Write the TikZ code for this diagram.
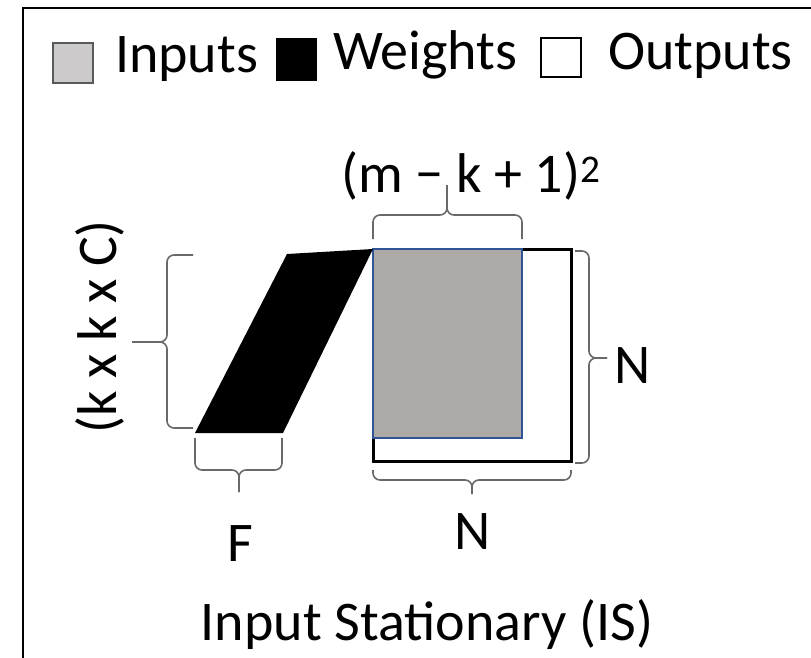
\documentclass[tikz,border=0pt]{standalone}
\usepackage{fontspec}
\setmainfont{Carlito}
\usepackage{tikz}
\usetikzlibrary{positioning,calc}
\definecolor{legendgray}{RGB}{204,202,202}
\definecolor{inputgray}{RGB}{173,169,166}
\definecolor{inputedge}{RGB}{47,85,151}
\definecolor{bracegray}{RGB}{105,105,105}
\tikzset{
    % Text and legend styles
    big/.style={font=\fontsize{56}{66}\selectfont, inner sep=0pt, outer sep=0pt},
    key/.style={rectangle, inner sep=0pt, outer sep=0pt},
    % Brace style
    brc/.style={draw=bracegray, line width=1.6pt, rounded corners=7pt},
}

\begin{document}
\begin{tikzpicture}[
    x=1pt, y=-1pt,
    outbox/.style={rectangle, draw, line width=3pt, fill=white, inner sep=0pt, outer sep=0pt,
                   minimum width=198pt, minimum height=212pt},
    inbox/.style={rectangle, draw=inputedge, line width=1.2pt, fill=inputgray, inner sep=0pt,
                  outer sep=0pt, minimum width=149pt, minimum height=189pt},
]
    \useasboundingbox (0,0) rectangle (811,658);
    \draw[line width=2pt] (23,658) -- (23,8) -- (811,8);

    % Legend
    \node[key, draw=black!65, line width=1.5pt, fill=legendgray, minimum width=40pt, minimum height=40pt] (kin) at (73,63) {};
    \node[big, anchor=base west] (tin) at (115,73) {Inputs};
    \node[key, fill=black, minimum width=41pt, minimum height=43pt] (kw) at (296.5,59.5) {};
    \node[big, anchor=base west] (tw) at (333,70) {Weights};
    \node[key, draw, line width=2.5pt, fill=white, minimum width=40pt, minimum height=39pt] (kout) at (561,57.5) {};
    \node[big, anchor=base west] (tout) at (608,70) {Outputs};

    % Outputs and inputs
    \node[outbox] (outs) at (472,355) {};
    \node[inbox, anchor=north west] (ins) at (outs.north west) {};

    % Weights
    \coordinate (wtl) at (287,254);
    \coordinate (wbl) at (195,433);
    \coordinate (wbr) at (283,433);
    \fill (wbl) -- (wtl) -- (ins.north west) -- (wbr) -- cycle;

    % Braces
    \draw[brc] (373,239) |- (447,215) -- (447,185);
    \draw[brc] (522,239) |- (447,215) -- (447,185);
    \draw[brc] (193,255) -| (167,342) -- (132,342);
    \draw[brc] (193,428) -| (167,342) -- (132,342);
    \draw[brc] (195,438) |- (239,470) -- (239,492);
    \draw[brc] (282,438) |- (239,470) -- (239,492);
    \draw[brc] (575,251) -| (589,358) -- (607,358);
    \draw[brc] (575,463) -| (589,358) -- (607,358);
    \draw[brc] (373,470) |- (472,480) -- (472,494);
    \draw[brc] (571,470) |- (472,480) -- (472,494);

    % Labels
    \node[big, anchor=base] (lm) at (471,192) {(m − k + 1)\textsuperscript{2}};
    \node[big, rotate=90] (lk) at (100,327) {(k x k x C)};
    \node[big, anchor=base west] (ln) at (614,383) {N};
    \node[big, anchor=base] (lnb) at (473,549) {N};
    \node[big, anchor=base] (lf) at (240,561) {F};
    \node[big, anchor=base] (lis) at (427,640) {Input Stationary (IS)};
\end{tikzpicture}
\end{document}
